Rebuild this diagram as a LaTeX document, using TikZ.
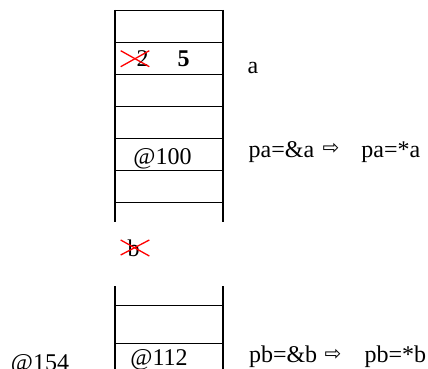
\documentclass[tikz,border=0pt]{standalone}
\usepackage{fontspec}
\setmainfont{Liberation Serif}
\newfontfamily\arrowfont{DejaVu Sans}
\tikzset{
	txt/.style={font=\fontsize{24}{28}\selectfont, inner sep=0pt, anchor=base},
	cross/.style={red, line width=1.3pt},
	arr/.style={inner sep=0pt, font=\arrowfont\fontsize{20}{24}\selectfont}
}
\begin{document}
\begin{tikzpicture}[x=1pt, y=-1pt, line width=1.4pt]
		\useasboundingbox (0,0) rectangle (428,369);
		% upper stack
		\draw (115,10) -- (115,222);
		\draw (223,10) -- (223,222);
		\foreach \y in {10.7,42.7,74.7,106.7,138.7,170.7,202.7}
			\draw (115,\y) -- (223,\y);
		\node[txt] (two) at (142.5,66.5) {2};
		\node[txt] (five) at (183.5,66.5) {\bfseries 5};
		\draw[cross] (120.7,50.7) -- (149.3,66.7);
		\draw[cross] (120.7,66.7) -- (149.3,50.7);
		\node[txt] (a) at (253,73.5) {a};
		\node[txt] (pa) at (162.5,164) {@100};
		\node[txt, anchor=base west] (paref) at (248,157) {pa=\&a};
		\node[arr] (paarrow) at (331,149) {⇨};
		\node[txt, anchor=base west] (paval) at (360.7,157) {pa=*a};
		% b, removed
		\node[txt] (b) at (133.5,256) {b};
		\draw[cross] (120.7,240) -- (149.3,256);
		\draw[cross] (120.7,255) -- (149.3,240);
		% lower stack
		\draw (115,286) -- (115,369);
		\draw (223,286) -- (223,369);
		\foreach \y in {305.3,343.3}
			\draw (115,\y) -- (223,\y);
		\node[txt] (pb) at (159,365) {@112};
		\node[txt] (addr) at (40,370) {@154};
		\node[txt, anchor=base west] (pbref) at (248.3,362.7) {pb=\&b};
		\node[arr] (pbarrow) at (333,355) {⇨};
		\node[txt, anchor=base west] (pbval) at (364,362.7) {pb=*b};
	\end{tikzpicture}
\end{document}
